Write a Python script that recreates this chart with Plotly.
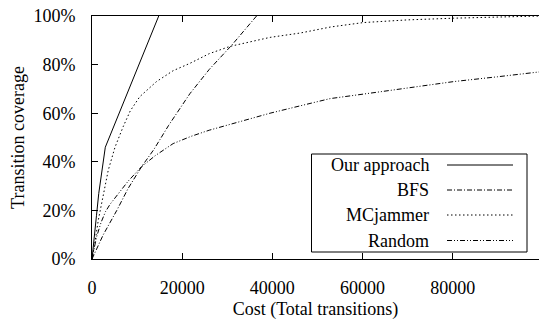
import plotly.graph_objects as go

# ---- data ----
ours_x = [0, 500, 1000, 1500, 2000, 2500, 2950, 14800]
ours_y = [0, 8, 18, 27, 34, 40.5, 46, 100]

bfs_x = [0, 2500, 5500, 8000, 11000, 13700, 17000, 21700, 26000, 31000, 36500]
bfs_y = [0, 10, 20, 29, 38, 45, 55, 68, 78, 88, 100]

mcj_x = [0, 500, 1400, 2500, 3600, 5100, 6900, 8500, 10600, 14300, 18000, 21700,
         26000, 30600, 39500, 46200, 53000, 60200, 70000, 80200, 90000, 99300]
mcj_y = [0, 5, 16, 27, 36.5, 46, 54.4, 61, 66.8, 73, 77.5, 80.5,
         84.5, 87.5, 91.2, 93, 95.5, 97.3, 98.4, 99.1, 99.6, 100]

rnd_x = [0, 1000, 2000, 3000, 4000, 6000, 8000, 11000, 14000, 18000, 22000, 26000,
         32800, 39500, 45000, 52800, 63100, 71000, 80200, 90000, 99300]
rnd_y = [0, 9, 15, 19.5, 22.5, 27.5, 32, 38, 42.5, 47.5, 50.5, 53,
         56.5, 60, 62.5, 66, 68.6, 70.5, 73, 75, 77]

series_names = ["Our approach", "BFS", "MCjammer", "Random"]

x_tickvals = [0, 20000, 40000, 60000, 80000]
x_ticktext = ["0", "20000", "40000", "60000", "80000"]
y_tickvals = [0, 20, 40, 60, 80, 100]
y_ticktext = ["0%", "20%", "40%", "60%", "80%", "100%"]

# ---- styling ----
FONT = "Liberation Serif"
dashes = ["solid", "5px,2px,1px,2px", "1.5px,2.5px", "5px,2px,1px,2px,1px,2px"]
series = [(ours_x, ours_y), (bfs_x, bfs_y), (mcj_x, mcj_y), (rnd_x, rnd_y)]

fig = go.Figure()
for (xs, ys), name, d in zip(series, series_names, dashes):
    fig.add_trace(go.Scatter(x=xs, y=ys, mode="lines", name=name,
                             line=dict(color="black", width=1, dash=d),
                             showlegend=False, hoverinfo="skip"))

# manual legend (text left, sample right) like the reference
L, R, T, B = 92, 539, 16, 259
def px(xp):
    return (xp - L) / (R - L)
def py(yp):
    return (B - yp) / (B - T)

fig.add_shape(type="rect", xref="paper", yref="paper",
              x0=px(311.5), x1=px(527), y0=py(252), y1=py(154),
              line=dict(color="black", width=1), fillcolor="white", layer="above")
row_y = [165, 190, 215, 240.5]
for name, d, yy in zip(series_names, dashes, row_y):
    fig.add_annotation(xref="paper", yref="paper", x=px(431), y=py(yy),
                       text=name, showarrow=False, xanchor="right", yanchor="middle",
                       font=dict(family=FONT, size=18, color="black"))
    fig.add_shape(type="line", xref="paper", yref="paper",
                  x0=px(447), x1=px(513), y0=py(yy), y1=py(yy),
                  line=dict(color="black", width=1, dash=d), layer="above")

fig.update_layout(
    width=539, height=320,
    margin=dict(l=L, r=539 - R, t=T, b=320 - B, pad=0, autoexpand=False),
    paper_bgcolor="white", plot_bgcolor="white",
    font=dict(family=FONT, size=18, color="black"),
    showlegend=False,
    xaxis=dict(range=[0, 99150], tickvals=x_tickvals, ticktext=x_ticktext,
               ticks="inside", ticklen=6, tickcolor="black", tickwidth=1,
               showline=True, linecolor="black", linewidth=1, mirror="ticks",
               showgrid=False, zeroline=False, ticklabelstandoff=12, automargin=False,
               tickfont=dict(family=FONT, size=18, color="black"),
               title=dict(text="Cost (Total transitions)", standoff=10,
                          font=dict(family=FONT, size=18, color="black"))),
    yaxis=dict(range=[0, 100], tickvals=y_tickvals, ticktext=y_ticktext,
               ticks="inside", ticklen=6, tickcolor="black", tickwidth=1,
               showline=True, linecolor="black", linewidth=1, mirror=False,
               showgrid=False, zeroline=False, ticklabelstandoff=12, automargin=False,
               tickfont=dict(family=FONT, size=18, color="black"),
               title=dict(text="Transition coverage", standoff=4,
                          font=dict(family=FONT, size=18, color="black"))),
    yaxis2=dict(range=[0, 100], tickvals=y_tickvals, overlaying="y", side="right",
                ticks="inside", ticklen=6, tickcolor="black", tickwidth=1,
                showticklabels=False, showline=False, showgrid=False, zeroline=False,
                automargin=False),
)

fig.write_html("out.html", config={"displayModeBar": False},
               post_script="document.body.style.margin='0';document.body.style.overflow='hidden';")
